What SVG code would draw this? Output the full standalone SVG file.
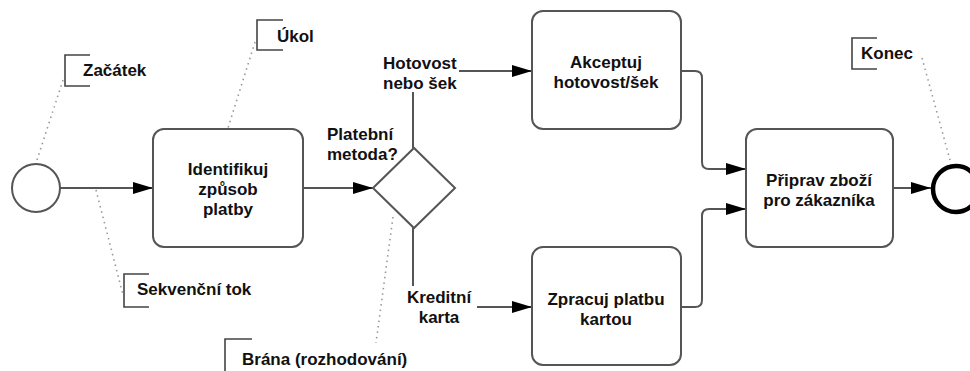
<svg xmlns="http://www.w3.org/2000/svg" width="970" height="371" viewBox="0 0 970 371">
<style>
.t{font-family:"Liberation Sans",Arial,sans-serif;font-weight:bold;font-size:17px;fill:#111}
.c{text-anchor:middle}
.box{fill:#fff;stroke:#555;stroke-width:2}
.flow{fill:none;stroke:#555;stroke-width:2;marker-end:url(#arr)}
.dot{fill:none;stroke:#999;stroke-width:1.6;stroke-dasharray:1.5 4}
.br{fill:none;stroke:#444;stroke-width:1.6}
</style>
<defs>
<marker id="arr" markerWidth="20" markerHeight="12" refX="20" refY="6" orient="auto" markerUnits="userSpaceOnUse">
<path d="M0,0 L20,6 L0,12 Z" fill="#000"/>
</marker>
</defs>
<rect width="970" height="371" fill="#fff"/>

<g id="connectors">
<path class="flow" d="M60,188 H153"/>
<path class="flow" d="M303,188 H373"/>
<path class="flow" d="M413,148 V71 H532"/>
<path class="flow" d="M413,228 V307 H532"/>
<path class="flow" d="M681,71 H695 Q702,71 702,78 V162 Q702,169 709,169 H746"/>
<path class="flow" d="M681,307 H695 Q702,307 702,300 V216 Q702,209 709,209 H746"/>
<path class="flow" d="M893,188 H931"/>
</g>

<g id="start"><circle cx="36" cy="188" r="24" fill="#fff" stroke="#555" stroke-width="2"/></g>
<g id="task1">
<rect class="box" x="153" y="129" width="150" height="118" rx="11"/>
<text class="t c" x="228" y="175">Identifikuj</text>
<text class="t c" x="228" y="195">způsob</text>
<text class="t c" x="228" y="215">platby</text>
</g>
<g id="gateway">
<path d="M373,188 L414,148 L455,188 L414,228 Z" fill="#fff" stroke="#555" stroke-width="2"/>
</g>
<g id="task2">
<rect class="box" x="532" y="11" width="149" height="118" rx="11"/>
<text class="t c" x="606" y="68">Akceptuj</text>
<text class="t c" x="606" y="88">hotovost/šek</text>
</g>
<g id="task3">
<rect class="box" x="532" y="247" width="149" height="118" rx="11"/>
<text class="t c" x="606" y="305">Zpracuj platbu</text>
<text class="t c" x="606" y="325">kartou</text>
</g>
<g id="task4">
<rect class="box" x="746" y="129" width="147" height="118" rx="11"/>
<text class="t c" x="819" y="186">Připrav zboží</text>
<text class="t c" x="819" y="206">pro zákazníka</text>
</g>
<g id="end"><circle cx="956" cy="189" r="23" fill="#fff" stroke="#000" stroke-width="4.5"/></g>

<g id="label-gateway">
<text class="t" x="327" y="140">Platební</text>
<text class="t" x="327" y="160">metoda?</text>
</g>
<g id="label-cash">
<rect x="380" y="52" width="79" height="40" fill="#fff"/>
<text class="t" x="383" y="69">Hotovost</text>
<text class="t" x="383" y="89">nebo šek</text>
</g>
<g id="label-card">
<rect x="404" y="286" width="73" height="42" fill="#fff"/>
<text class="t c" x="439" y="303">Kreditní</text>
<text class="t c" x="439" y="323">karta</text>
</g>

<g id="annotations">
<path class="dot" d="M63,80 L37,160"/>
<path class="br" d="M90,55 H65 V86 H90"/>
<text class="t" x="83" y="76">Začátek</text>

<path class="dot" d="M255,42 L228,128"/>
<path class="br" d="M283,20 H257 V50 H283"/>
<text class="t" x="277" y="42">Úkol</text>

<path class="dot" d="M96,190 L123,295"/>
<path class="br" d="M149,274 H124 V307 H149"/>
<text class="t" x="137" y="295">Sekvenční tok</text>

<path class="dot" d="M393,217 L376,343"/>
<path class="br" d="M252,339 H225 V372"/>
<text class="t" x="242" y="365">Brána (rozhodování)</text>

<path class="dot" d="M922,58 L950,160"/>
<path class="br" d="M877,38 H852 V69 H877"/>
<text class="t" x="861" y="59">Konec</text>
</g>
</svg>
